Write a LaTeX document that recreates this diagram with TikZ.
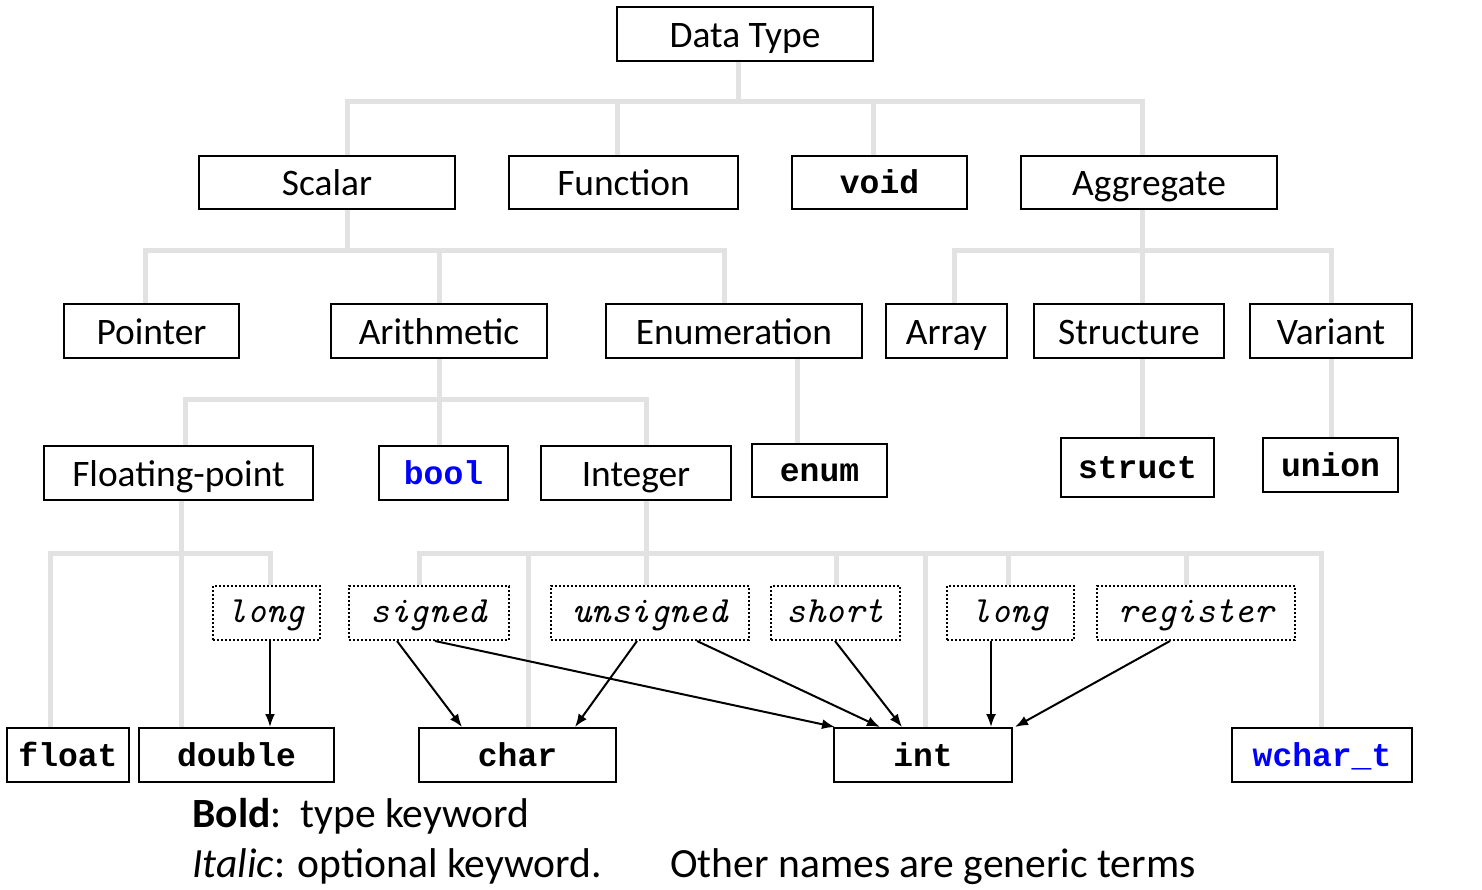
\documentclass[tikz,border=0pt]{standalone}
\usepackage{fontspec}
\setmainfont{Carlito}
\newfontfamily\kwfont{Liberation Mono}
\usetikzlibrary{arrows.meta,backgrounds}
\definecolor{treegray}{RGB}{226,226,226}
\definecolor{kwblue}{RGB}{0,0,255}
\begin{document}
\begin{tikzpicture}[x=0.5pt,y=-0.5pt,
  box/.style={draw, line width=1pt, fill=white, inner sep=0pt, text height=13pt, text depth=0pt, font=\fontsize{18.7}{22}\selectfont},
  kw/.style={box, text height=11pt, font=\kwfont\bfseries\fontsize{16.5}{20}\selectfont},
  opt/.style={box, densely dotted, text height=9.5pt, font=\ttfamily\itshape\fontsize{18.5}{20}\selectfont},
  tree/.style={draw=treegray, line width=2.5pt},
  arr/.style={-{Latex[length=6.5pt,width=5pt]}, line width=1pt},
  legend/.style={anchor=base west, inner sep=0pt, font=\fontsize{20.8}{24}\selectfont}]
\useasboundingbox (0,0) rectangle (1482,889);
% row 1
\node[box, minimum width=128pt, minimum height=27pt] (DT) at (745,34) {Data Type};
% row 2
\node[box, minimum width=128pt, minimum height=26.5pt] (Scalar) at (327,182.5) {Scalar};
\node[box, minimum width=114.5pt, minimum height=26.5pt] (Function) at (623.5,182.5) {Function};
\node[kw, minimum width=87.5pt, minimum height=26.5pt] (void) at (879.5,182.5) {void};
\node[box, minimum width=128pt, minimum height=26.5pt] (Aggregate) at (1149,182.5) {Aggregate};
% row 3
\node[box, minimum width=87.5pt, minimum height=27pt] (Pointer) at (151.5,331) {Pointer};
\node[box, minimum width=108pt, minimum height=27pt] (Arithmetic) at (439,331) {Arithmetic};
\node[box, minimum width=128pt, minimum height=27pt] (Enumeration) at (734,331) {Enumeration};
\node[box, minimum width=60.5pt, minimum height=27pt] (Array) at (946.5,331) {Array};
\node[box, minimum width=95pt, minimum height=27pt] (Structure) at (1129,331) {Structure};
\node[box, minimum width=81pt, minimum height=27pt] (Variant) at (1331,331) {Variant};
% row 4
\node[box, minimum width=134.5pt, minimum height=27pt] (FP) at (178.5,473) {Floating-point};
\node[kw, text=kwblue, minimum width=64.5pt, minimum height=27pt] (bool) at (443.5,473) {bool};
\node[box, minimum width=95pt, minimum height=27pt] (Integer) at (636,473) {Integer};
\node[kw, minimum width=67.5pt, minimum height=26.5pt] (enum) at (819.5,470.5) {enum};
\node[kw, minimum width=76.5pt, minimum height=29.5pt] (struct) at (1137.5,467.5) {struct};
\node[kw, minimum width=67.5pt, minimum height=27pt] (union) at (1330.5,465) {union};
% row 5 (optional keywords)
\node[opt, minimum width=53.5pt, minimum height=27pt] (longa) at (266.5,613) {long};
\node[opt, minimum width=80pt, minimum height=27pt] (signed) at (429,613) {signed};
\node[opt, minimum width=99pt, minimum height=27pt] (unsigned) at (650,613) {unsigned};
\node[opt, minimum width=64.5pt, minimum height=27pt] (short) at (835.5,613) {short};
\node[opt, minimum width=63.5pt, minimum height=27pt] (longb) at (1010.5,613) {long};
\node[opt, minimum width=99pt, minimum height=27pt] (register) at (1196,613) {register};
% row 6
\node[kw, minimum width=61pt, minimum height=27pt] (float) at (68,755) {float};
\node[kw, minimum width=97.5pt, minimum height=27pt] (double) at (236.5,755) {double};
\node[kw, minimum width=98.5pt, minimum height=27pt] (char) at (517.5,755) {char};
\node[kw, minimum width=89pt, minimum height=27pt] (int) at (923,755) {int};
\node[kw, text=kwblue, minimum width=90pt, minimum height=27pt] (wchar) at (1322,755) {wchar\_t};
% bus junctions
\coordinate (b1) at (738,101);
\coordinate (b2) at (347,250);
\coordinate (b3) at (1142,250);
\coordinate (b4) at (439,399);
\coordinate (b5) at (181,553);
\coordinate (b6) at (646,553);
\begin{pgfonlayer}{background}
\draw[tree] ([xshift=-3.5pt]DT.south) -- (b1);
\draw[tree] ([xshift=10pt]Scalar.north) |- (b1);
\draw[tree] ([xshift=-3.25pt]Function.north) |- (b1);
\draw[tree] ([xshift=-3.25pt]void.north) |- (b1);
\draw[tree] ([xshift=-3.5pt]Aggregate.north) |- (b1);
\draw[tree] ([xshift=10pt]Scalar.south) -- (b2);
\draw[tree] ([xshift=-3.25pt]Pointer.north) |- (b2);
\draw[tree] (Arithmetic.north) |- (b2);
\draw[tree] ([xshift=-5pt]Enumeration.north) |- (b2);
\draw[tree] ([xshift=-3.5pt]Aggregate.south) -- (b3);
\draw[tree] ([xshift=3.75pt]Array.north) |- (b3);
\draw[tree] ([xshift=6.5pt]Structure.north) |- (b3);
\draw[tree] (Variant.north) |- (b3);
\draw[tree] (Arithmetic.south) -- (b4);
\draw[tree] ([xshift=3.25pt]FP.north) |- (b4);
\draw[tree] ([xshift=-2.25pt]bool.north) |- (b4);
\draw[tree] ([xshift=5pt]Integer.north) |- (b4);
\draw[tree] ([xshift=31.5pt]Enumeration.south) -- ([xshift=-11.25pt]enum.north);
\draw[tree] ([xshift=6.5pt]Structure.south) -- ([xshift=2.25pt]struct.north);
\draw[tree] (Variant.south) -- ([xshift=0.25pt]union.north);
\draw[tree] ([xshift=1.25pt]FP.south) -- (b5);
\draw[tree] ([xshift=-9pt]float.north) |- (b5);
\draw[tree] ([xshift=-27.75pt]double.north) |- (b5);
\draw[tree] ([xshift=1.75pt]longa.north) |- (b5);
\draw[tree] ([xshift=5pt]Integer.south) -- (b6);
\draw[tree] ([xshift=-5pt]signed.north) |- (b6);
\draw[tree] ([xshift=5.25pt]char.north) |- (b6);
\draw[tree] ([xshift=-2pt]unsigned.north) |- (b6);
\draw[tree] ([xshift=0.25pt]short.north) |- (b6);
\draw[tree] ([xshift=1pt]int.north) |- (b6);
\draw[tree] ([xshift=-1.25pt]longb.north) |- (b6);
\draw[tree] ([xshift=-5pt]register.north) |- (b6);
\draw[tree] ([xshift=-0.5pt]wchar.north) |- (b6);
\end{pgfonlayer}
% arrows
\draw[arr] ([xshift=1.75pt]longa.south) -- ([xshift=16.75pt]double.north);
\draw[arr] ([xshift=-16pt]signed.south) -- ([xshift=-27.75pt]char.north);
\draw[arr] ([xshift=3pt]signed.south) -- ([xshift=-44pt]int.north);
\draw[arr] ([xshift=-6.5pt]unsigned.south) -- ([xshift=28.75pt]char.north);
\draw[arr] ([xshift=23.5pt]unsigned.south) -- ([xshift=-21.5pt]int.north);
\draw[arr] ([xshift=-0.25pt]short.south) -- ([xshift=-10.5pt]int.north);
\draw[arr] ([xshift=-9.75pt]longb.south) -- ([xshift=34pt]int.north);
\draw[arr] ([xshift=-13pt]register.south) -- ([xshift=46pt]int.north);
% legend
\node[legend] (lg1) at (192,827) {\textbf{Bold}:\ \ type keyword};
\node[legend] (lg2) at (192,877) {\textit{Italic}: optional keyword.};
\node[legend] (lg3) at (670,877) {Other names are generic terms};
\end{tikzpicture}
\end{document}
